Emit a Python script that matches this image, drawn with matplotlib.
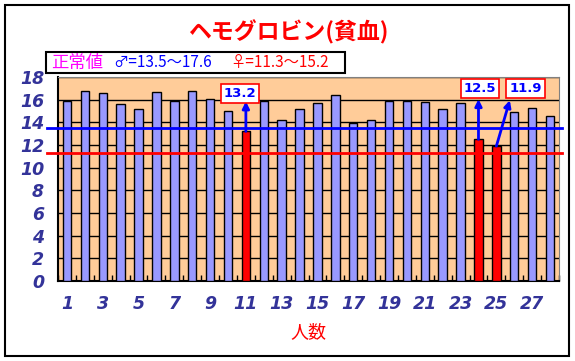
import matplotlib
matplotlib.use("Agg")
import matplotlib.pyplot as plt
from matplotlib.patches import Rectangle

plt.rcParams['font.family'] = ['Noto Sans CJK JP', 'DejaVu Sans']

# ---- data ----
people = list(range(1, 29))
hemoglobin = [15.9, 16.8, 16.6, 15.6, 15.2, 16.7, 15.9, 16.8, 16.1, 15.0,
              13.2, 15.9, 14.2, 15.2, 15.7, 16.4, 13.9, 14.2, 15.9, 15.9,
              15.8, 15.2, 15.7, 12.5, 11.9, 14.9, 15.3, 14.6]
low_people = [11, 24, 25]
male_low, male_high = 13.5, 17.6
female_low, female_high = 11.3, 15.2
xtick_labels = [str(i) for i in range(1, 28, 2)]
yticks = list(range(0, 19, 2))
title = "ヘモグロビン(貧血)"
xlabel = "人数"
# annotation label positions (data coords) and arrow tips
ann_people = [11, 24, 25]
ann_text_xy = [(10.67, 16.55), (24.08, 17.0), (26.62, 17.0)]
ann_tip_xy = [(11, 15.85), (24, 16.05), (25.75, 15.95)]

W, H = 575, 361
fig = plt.figure(figsize=(W / 100, H / 100), dpi=100)
fig.patch.set_facecolor('white')

# outer border
fig.patches.append(Rectangle((5 / W, 1 - 356 / H), 564 / W, 351 / H,
                             transform=fig.transFigure, fill=False,
                             edgecolor='black', lw=1.5, zorder=0))

ax = fig.add_axes([58 / W, 1 - 281 / H, 501 / W, 204 / H])
ax.set_facecolor('#FFCC99')

colors = ['#FF0000' if p in low_people else '#9999FF' for p in people]
ax.bar(people, hemoglobin, width=0.47, color=colors, edgecolor='black',
       linewidth=1.0, zorder=3)

ax.set_xlim(0.5, 28.5)
ax.set_ylim(0, 18)
ax.set_yticks(yticks)
ax.yaxis.grid(True, color='black', lw=1.0, zorder=1)
ax.set_axisbelow(True)

ax.set_xticks(list(range(1, 28, 2)))
ax.set_xticklabels(xtick_labels)
ax.set_xticks([i + 0.5 for i in range(0, 29)], minor=True)
ax.tick_params(axis='x', which='major', length=0, pad=10)
ax.tick_params(axis='x', which='minor', direction='in', length=4, width=1,
               color='black')
ax.tick_params(axis='y', length=0, pad=10)
for lab in ax.get_xticklabels() + ax.get_yticklabels():
    lab.set_fontstyle('italic')
    lab.set_fontweight('bold')
    lab.set_fontsize(12.5)
    lab.set_color('#333399')
    lab.set_family('DejaVu Sans')

for s in ['top', 'right']:
    ax.spines[s].set_color('#808080')
for s in ['left', 'bottom']:
    ax.spines[s].set_color('black')
    ax.spines[s].set_linewidth(1.5)

# normal range lines (extend beyond plot)
tr = ax.get_yaxis_transform()
ax.plot([-0.022, 1.006], [male_low, male_low], color='#0000FF', lw=2,
        transform=tr, clip_on=False, zorder=5)
ax.plot([-0.022, 1.006], [female_low, female_low], color='#FF0000', lw=2,
        transform=tr, clip_on=False, zorder=5)

# annotations
for p, txy, tip in zip(ann_people, ann_text_xy, ann_tip_xy):
    v = hemoglobin[people.index(p)]
    ax.annotate('', xy=tip, xytext=(p, v),
                arrowprops=dict(arrowstyle='-|>', color='#0000FF', lw=2,
                                mutation_scale=10, shrinkA=0, shrinkB=0),
                zorder=6, annotation_clip=False)
    ax.text(txy[0], txy[1], f"{v:.1f}", ha='center', va='center',
            color='#0000FF', fontsize=9.5, fontweight='bold',
            family='DejaVu Sans',
            bbox=dict(boxstyle='square,pad=0.22', facecolor='white',
                      edgecolor='#FF0000', lw=1.2), zorder=7)

ax.set_xlabel(xlabel, color='#FF0000', fontsize=13, labelpad=7)

# title
fig.text(288 / W, 1 - 32 / H, title, ha='center', va='center',
         color='#FF0000', fontsize=16.5, fontweight='bold')

# normal value box
fig.patches.append(Rectangle((46 / W, 1 - 73 / H), 299 / W, 21 / H,
                             transform=fig.transFigure, facecolor='white',
                             edgecolor='black', lw=1.5, zorder=2))
ty = 1 - 62.5 / H
fig.text(51 / W, ty, "正常値", color='#FF00FF', fontsize=12.5,
         ha='left', va='center', zorder=3)
fig.text(113 / W, ty, f"♂={male_low}〜{male_high}", color='#0000FF',
         fontsize=11, ha='left', va='center', zorder=3)
fig.text(230 / W, ty, f"♀={female_low}〜{female_high}", color='#FF0000',
         fontsize=11, ha='left', va='center', zorder=3)

fig.savefig('out.png', dpi=100)
